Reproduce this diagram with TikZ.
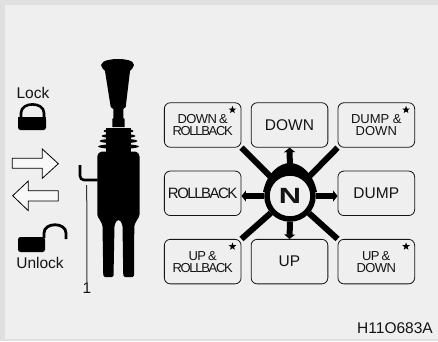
\documentclass[tikz,border=0pt]{standalone}
\usepackage{graphicx}
\usepackage{fontspec}
\setmainfont{Liberation Sans}
\newfontfamily\tightfont[LetterSpace=-10]{Liberation Sans}
\newfontfamily\semitightfont[LetterSpace=-5]{Liberation Sans}
\usetikzlibrary{shapes.geometric,arrows.meta,positioning,backgrounds,calc}
\definecolor{panelGray}{RGB}{239,239,239}
\definecolor{edgeGray}{RGB}{224,224,224}
\definecolor{inkBlack}{RGB}{20,20,20}

\begin{document}
\begin{tikzpicture}[
  x=1pt, y=-1pt,
  modebox/.style={rectangle, rounded corners=6pt,
                  draw=inkBlack, line width=0.8pt, fill=panelGray,
                  minimum width=76.7pt, minimum height=44.5pt, inner sep=0pt,
                  align=center, text=inkBlack,
                  font=\fontsize{#1}{12}\selectfont},
  modebox/.default=15.5,
  tag/.style={font=\fontsize{15.5}{17}\selectfont, text=inkBlack, inner sep=0pt},
  corner/.style={star, star points=5, star point ratio=2.4, fill=black,
                 minimum size=8pt, inner sep=0pt},
  spoke/.style={black, line width=6pt},
  shaft/.style={black, line width=6pt, -{Triangle[length=4.5pt,width=11pt]}},
  flow/.style={draw=black, line width=0.8pt, fill=white!55!panelGray, line join=miter},
  node distance=23pt and 9.3pt
]
  \useasboundingbox (0,0) rectangle (438,341);

  % Selector grid
  \node[modebox] at (289.5,125) (DN) {DOWN};
  \node[modebox=13, left=of DN]  (DR) {{\semitightfont DOWN\,\&}\\{\tightfont ROLLBACK}};
  \node[modebox=13, right=of DN] (DD) {DUMP \&\\DOWN};
  \node[modebox, below=of DR] (RB) {{\fontsize{15}{12}\tightfont ROLLBACK}};
  \node[modebox, below=of DD] (DP) {DUMP};
  \node[modebox=13, below=of RB] (UR) {{\semitightfont UP\,\&}\\{\tightfont ROLLBACK}};
  \node[modebox, right=of UR] (UP) {UP};
  \node[modebox=13, right=of UP] (UD) {{\semitightfont UP\,\&}\\{\semitightfont DOWN}};

  \foreach \a in {DR, DD, UR, UD}
    \node[corner] (\a star) at ($(\a.north east)+(-9,7.5)$) {};

  % Neutral hub
  \node[circle, draw=black, line width=5.5pt, fill=panelGray,
        minimum size=46pt, inner sep=0pt,
        font=\fontsize{22}{22}\selectfont\bfseries, text=inkBlack]
    (N) at (290,196) {\scalebox{1.4}[1]{N}};

  \begin{scope}[on background layer]
    \fill[edgeGray] (0,0) rectangle (438,341);
    \fill[panelGray] (5,5) rectangle (438,339);
    \fill[black] (263,192) .. controls (267,172) and (280,163) .. (290,163)
      .. controls (300,163) and (313,172) .. (317,192) -- cycle;
    \foreach \b/\c in {DR/south east, DD/south west, UR/north east, UD/north west}
      \draw[spoke] (N) -- (\b.\c);
    \draw[shaft] (N.north) -- (DN.south);
    \draw[shaft] (N.south) -- (UP.north);
    \draw[shaft] (N.west) -- (RB.east |- N.west);
    \draw[shaft] (N.east) -- (DP.west |- N.east);
  \end{scope}

  % Side annotation
  \node[tag] (lock) at (33,93) {Lock};
  \node[tag] (unlock) at (40,263) {Unlock};
  \node[tag] (one) at (87,288) {1};
  \node[tag] (code) at (395,328) {H11O683A};

  % Padlocks
  \draw[black, line width=2.6pt] (21,118) -- (21,113) .. controls (21,101.5) and (44,101.5) .. (44,113) -- (44,118);
  \fill[black, rounded corners=2.5pt] (18,117) -- (46,117) -- (46,130) -- (18,130) -- cycle;
  \fill[black] (18,120) rectangle (46,117);
  \draw[black, line width=2.8pt] (44,238) -- (44,233) .. controls (44,222) and (66,222) .. (66,233) -- (66,239);
  \fill[black, rounded corners=2.5pt] (18,237) -- (45,237) -- (45,252) -- (18,252) -- cycle;

  % Travel arrows
  \draw[flow] (12.3,158.3) -- (42.3,158.3) -- (42.3,149) -- (58.3,163.7) -- (42.3,178.3)
    -- (42.3,168.3) -- (12.3,168.3) -- cycle;
  \draw[flow] (58.3,190.7) -- (28.3,190.7) -- (28.3,181) -- (12.7,195.7) -- (28.3,210.7)
    -- (28.3,201) -- (58.3,201) -- cycle;

  % Joystick
  \fill[black] (101,65) .. controls (102,60) and (112,59) .. (118,59)
    .. controls (124,59) and (134,60) .. (134,65) .. controls (134,68) and (131,69) .. (130,71)
    -- (125.7,107) -- (123.3,109) -- (123.3,118) -- (124.7,119) -- (124.7,127)
    -- (112.3,127) -- (112.3,119) -- (113.3,118) -- (113.3,109) -- (110.7,107)
    -- (105,71) .. controls (104,69) and (101,68) .. (101,65) -- cycle;
  \fill[black] (106,128) rectangle (131,153);
  \foreach \y/\w in {131/15, 136/17, 141/19, 146.5/20.5}
    \fill[black] (118.5,\y) ellipse [x radius=\w, y radius=2.4];
  \fill[black, rounded corners=1.5pt] (97.3,155) -- (100,151.7) -- (137,151.7) -- (139.5,155)
    -- (139.5,216) -- (137,220) -- (134.3,225) -- (134,277) -- (123.3,277) -- (122.5,225)
    -- (120,220) -- (117,220) -- (114.5,225) -- (113.5,277) -- (103.3,277) -- (102.5,225)
    -- (100,220) -- (97.3,216) -- cycle;

  % Lever and its leader
  \coordinate (leverFoot) at (97.5,180);
  \coordinate (leverTip) at (80,165);
  \coordinate (leaderTop) at (86.7,185);
  \draw[black, line width=2.6pt, rounded corners=4pt] (leverTip) |- (leverFoot);
  \draw[black!80, line width=1pt] (one.north) -- (leaderTop);
\end{tikzpicture}
\end{document}
